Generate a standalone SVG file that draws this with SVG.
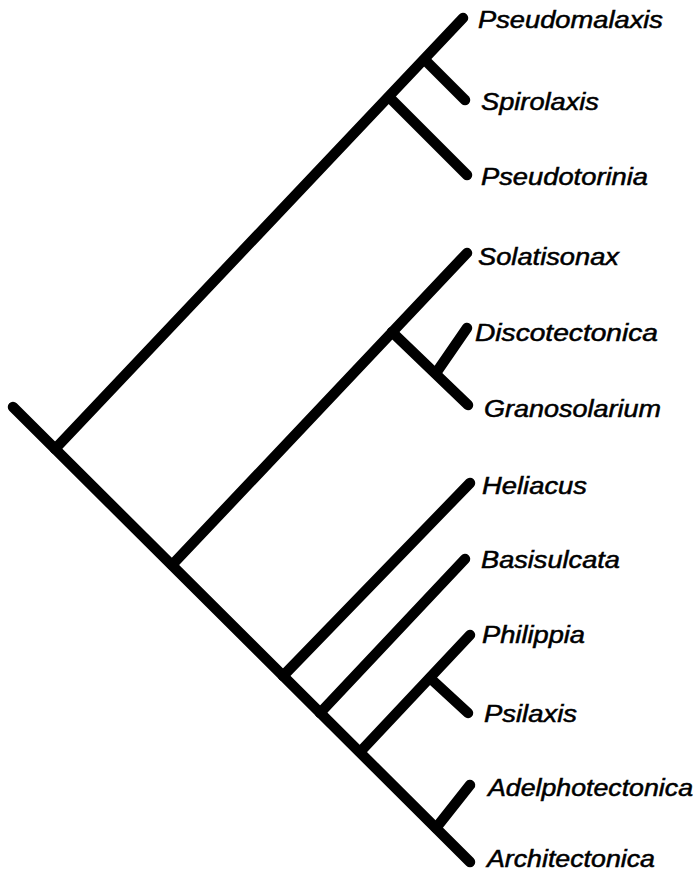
<svg xmlns="http://www.w3.org/2000/svg" width="699" height="875" viewBox="0 0 699 875">
<style>
.br{stroke:#000;stroke-width:10.5;stroke-linecap:round;fill:none}
.lb{font-family:"Liberation Sans",Arial,Helvetica,sans-serif;font-style:italic;font-size:23px;fill:#000;stroke:#000;stroke-width:0.5}
</style>
<rect width="699" height="875" fill="#fff"/>
<g id="connectors">
<line class="br" x1="13" y1="407" x2="470" y2="862"/>
<line class="br" x1="55" y1="449" x2="463" y2="18"/>
<line class="br" x1="425" y1="60" x2="465" y2="100"/>
<line class="br" x1="390" y1="98" x2="467" y2="175"/>
<line class="br" x1="172" y1="565" x2="467" y2="253"/>
<line class="br" x1="392" y1="332" x2="468" y2="405"/>
<line class="br" x1="436" y1="373" x2="467" y2="328"/>
<line class="br" x1="283" y1="676" x2="470" y2="483"/>
<line class="br" x1="320" y1="713" x2="465" y2="559"/>
<line class="br" x1="360" y1="752" x2="470" y2="635"/>
<line class="br" x1="430" y1="678" x2="468" y2="713"/>
<line class="br" x1="436" y1="828" x2="470" y2="785"/>
</g>
<g id="n-pseudomalaxis"><text class="lb" x="478" y="28" textLength="185" lengthAdjust="spacingAndGlyphs">Pseudomalaxis</text></g>
<g id="n-spirolaxis"><text class="lb" x="481" y="110" textLength="118" lengthAdjust="spacingAndGlyphs">Spirolaxis</text></g>
<g id="n-pseudotorinia"><text class="lb" x="481" y="185" textLength="167" lengthAdjust="spacingAndGlyphs">Pseudotorinia</text></g>
<g id="n-solatisonax"><text class="lb" x="478" y="265" textLength="141" lengthAdjust="spacingAndGlyphs">Solatisonax</text></g>
<g id="n-discotectonica"><text class="lb" x="475" y="341" textLength="183" lengthAdjust="spacingAndGlyphs">Discotectonica</text></g>
<g id="n-granosolarium"><text class="lb" x="484" y="417" textLength="177" lengthAdjust="spacingAndGlyphs">Granosolarium</text></g>
<g id="n-heliacus"><text class="lb" x="482" y="494" textLength="105" lengthAdjust="spacingAndGlyphs">Heliacus</text></g>
<g id="n-basisulcata"><text class="lb" x="481" y="568" textLength="139" lengthAdjust="spacingAndGlyphs">Basisulcata</text></g>
<g id="n-philippia"><text class="lb" x="482" y="643" textLength="103" lengthAdjust="spacingAndGlyphs">Philippia</text></g>
<g id="n-psilaxis"><text class="lb" x="484" y="722" textLength="93" lengthAdjust="spacingAndGlyphs">Psilaxis</text></g>
<g id="n-adelphotectonica"><text class="lb" x="488" y="796" textLength="205" lengthAdjust="spacingAndGlyphs">Adelphotectonica</text></g>
<g id="n-architectonica"><text class="lb" x="487" y="867" textLength="168" lengthAdjust="spacingAndGlyphs">Architectonica</text></g>
</svg>
